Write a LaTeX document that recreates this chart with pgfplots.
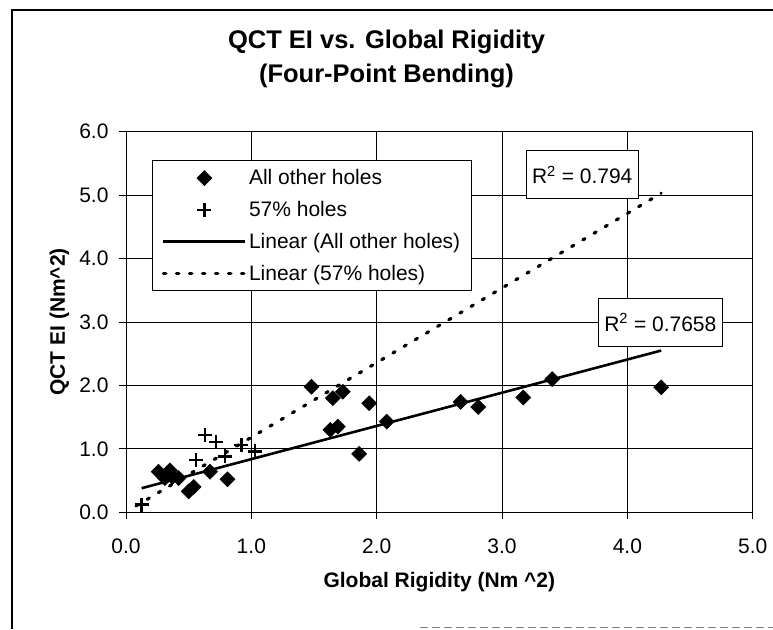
\documentclass[border=0pt]{standalone}
\usepackage{fontspec}
\setmainfont{Liberation Sans}
\usepackage{pgfplots}
\pgfplotsset{compat=1.18}
\begin{document}
\begin{tikzpicture}[x=1pt,y=1pt]
\useasboundingbox (0,0) rectangle (773,629);
\fill[white] (0,0) rectangle (773,629);
\draw[line width=1.2pt] (12,0) -- (12,619) -- (773,619);
\draw[gray, line width=1pt, dash pattern=on 8pt off 4pt] (420,1.5) -- (773,1.5);
\node[font=\fontsize{25.5}{34}\selectfont\bfseries, align=center] at (386.5,570) {QCT EI vs. Global Rigidity\\(Four-Point Bending)};
\begin{axis}[
  at={(126pt,116.7pt)}, anchor=south west,
  scale only axis, width=626.7pt, height=380.6pt,
  xmin=0, xmax=5, ymin=0, ymax=6,
  xtick={0,1,2,3,4,5}, ytick={0,1,2,3,4,5,6},
  tick pos=left,
  grid=major, major grid style={black, line width=0.8pt},
  axis line style={black, line width=1pt},
  tick align=outside, major tick length=7pt, tick style={black, line width=0.8pt},
  /pgf/number format/.cd, fixed, fixed zerofill, precision=1, assume math mode=true,
  /pgfplots/.cd,
  ticklabel style={font=\fontsize{21}{25}\selectfont},
  xticklabel style={yshift=-16pt},
  yticklabel style={xshift=-7pt},
  xlabel={Global Rigidity (Nm \textasciicircum2)},
  ylabel={QCT EI (Nm\textasciicircum2)},
  label style={font=\fontsize{21}{25}\selectfont\bfseries},
  xlabel style={at={(axis description cs:0.5,-0.1831)}, anchor=center},
  ylabel style={at={(axis description cs:-0.106,0.5)}, anchor=center},
  legend image code/.code={\draw[mark repeat=2,mark phase=2,#1] plot coordinates {(0pt,0pt)(41pt,0pt)(82pt,0pt)};},
  legend style={at={(axis cs:0.21,5.55)}, anchor=north west, draw=black, line width=1pt, fill=white,
    font=\fontsize{21}{25}\selectfont, row sep=11pt, inner xsep=9pt, inner ysep=7pt, cells={anchor=west}},
]
\addplot[only marks, mark=square*, mark size=5.3pt, mark options={rotate=45, fill=black, draw=black, line width=0.5pt}] coordinates {
(0.26,0.64) (0.31,0.54) (0.35,0.66) (0.37,0.56) (0.42,0.54) (0.50,0.33) (0.54,0.40)
(0.67,0.64) (0.81,0.52) (1.48,1.98) (1.63,1.30) (1.65,1.80) (1.69,1.35) (1.73,1.90)
(1.86,0.92) (1.94,1.72) (2.08,1.43) (2.67,1.74) (2.81,1.66) (3.17,1.81) (3.40,2.10) (4.27,1.97)
};
\addlegendentry{All other holes}
\addplot[only marks, mark=+, mark size=7pt, mark options={line width=2.4pt, draw=black}] coordinates {
(0.125,0.12) (0.56,0.82) (0.63,1.22) (0.72,1.11) (0.79,0.88) (0.92,1.06) (1.03,0.96)
};
\addlegendentry{57\% holes}
\addplot[black, line width=2.6pt, no marks] coordinates {(0.125,0.38) (4.27,2.55)};
\addlegendentry{Linear (All other holes)}
\addplot[black, line width=3.2pt, no marks, line cap=round, dash pattern=on 2.5pt off 10.5pt] coordinates {(0.08,0.10) (4.27,5.03)};
\addlegendentry{Linear (57\% holes)}
\node[draw=black, fill=white, line width=1pt, font=\fontsize{21}{25}\selectfont, inner xsep=6pt, minimum height=48pt] at (axis cs:3.64,5.32) {R\textsuperscript{2} = 0.794};
\node[draw=black, fill=white, line width=1pt, font=\fontsize{21}{25}\selectfont, inner xsep=6pt, minimum height=48pt] at (axis cs:4.263,2.99) {R\textsuperscript{2} = 0.7658};
\end{axis}
\end{tikzpicture}
\end{document}
